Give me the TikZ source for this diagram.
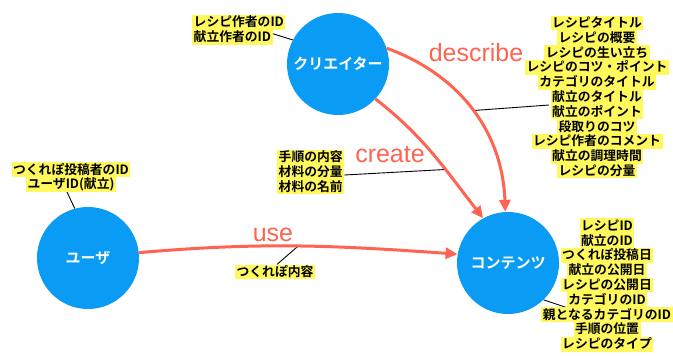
\documentclass[tikz,border=0pt]{standalone}
\usepackage{fontspec}
\usetikzlibrary{arrows.meta,backgrounds}
\newfontfamily\jp{Noto Sans CJK JP Bold}
\newfontfamily\lat{Liberation Sans}
\definecolor{cblue}{HTML}{0A9BF5}
\definecolor{cred}{HTML}{FF6352}
\definecolor{hly}{HTML}{FFF95E}
\setlength{\lineskip}{0pt}
\newcommand\hl[1]{{\setlength{\fboxsep}{0pt}\colorbox{hly}{\rule[-3pt]{0pt}{14.8pt}\hspace{1.5pt}#1\hspace{1.5pt}}}}
\begin{document}
\begin{tikzpicture}[x=1pt,y=1pt,
  ent/.style={circle, fill=cblue, text=white, minimum size=102pt, inner sep=0pt,
    font=\jp\fontsize{15}{18}\selectfont},
  lbl/.style={inner sep=0pt, font=\jp\fontsize{12.8}{14.8}\selectfont},
  rel/.style={draw=cred, line width=3pt, -{Triangle[length=12pt,width=11pt]}},
  reltext/.style={text=cred, inner sep=0pt, font=\lat\fontsize{25}{30}\selectfont},
  tie/.style={draw=black, line width=0.9pt}]
\useasboundingbox (0,0) rectangle (673,-356);

% entities
\node[ent] (creator)  at (338,-64)  {クリエイター};
\node[ent] (user)     at (88,-258)  {ユーザ};
\node[ent] (contents) at (508,-263) {コンテンツ};

% relations
\draw[rel] (creator.18) to[out=-20,in=92] coordinate[pos=0.5] (dp) (contents.93);
\draw[rel] (creator.-43) to[out=-38,in=128] coordinate[pos=0.63] (cp) (contents.119);
\draw[rel] (user.6) to[out=5,in=176] coordinate[pos=0.5] (up) (contents.170);

\node[reltext] (tdescribe) at (476,-53)  {describe};
\node[reltext] (tcreate)   at (390,-155) {create};
\node[reltext] (tuse)      at (273,-235) {use};

% attribute labels
\node[lbl, align=left, anchor=west] (lcreator) at (192,-30)
  {\hl{レシピ作者のID}\\\hl{献立作者のID}};
\node[lbl, align=center] (luser) at (71,-177)
  {\hl{つくれぽ投稿者のID}\\\hl{ユーザID(献立)}};
\node[lbl, align=left, anchor=west] (lcreate) at (277,-172)
  {\hl{手順の内容}\\\hl{材料の分量}\\\hl{材料の名前}};
\node[lbl] (luse) at (275,-272) {\hl{つくれぽ内容}};
\node[lbl, align=center] (ldescribe) at (597,-97)
  {\hl{レシピタイトル}\\\hl{レシピの概要}\\\hl{レシピの生い立ち}\\\hl{レシピのコツ・ポイント}\\
   \hl{カテゴリのタイトル}\\\hl{献立のタイトル}\\\hl{献立のポイント}\\\hl{段取りのコツ}\\
   \hl{レシピ作者のコメント}\\\hl{献立の調理時間}\\\hl{レシピの分量}};
\node[lbl, align=center] (lcontents) at (607,-285)
  {\hl{レシピID}\\\hl{献立のID}\\\hl{つくれぽ投稿日}\\\hl{献立の公開日}\\\hl{レシピの公開日}\\
   \hl{カテゴリのID}\\\hl{親となるカテゴリのID}\\\hl{手順の位置}\\\hl{レシピのタイプ}};

\coordinate (dl) at (549,-105);
\coordinate (ct) at (568,-308);

\begin{scope}[on background layer]
\draw[tie] ([xshift=-15pt,yshift=-3pt]lcreator.east) -- (creator.152);
\draw[tie] ([xshift=-4pt]luser.south) -- (user.105);
\draw[tie] ([yshift=-3pt]lcreate.east) -- (cp);
\draw[tie] (dl) -- (dp);
\draw[tie] ([xshift=2pt]luse.north) -- (up);
\draw[tie] (contents.-46) -- (ct);
\end{scope}
\end{tikzpicture}
\end{document}
